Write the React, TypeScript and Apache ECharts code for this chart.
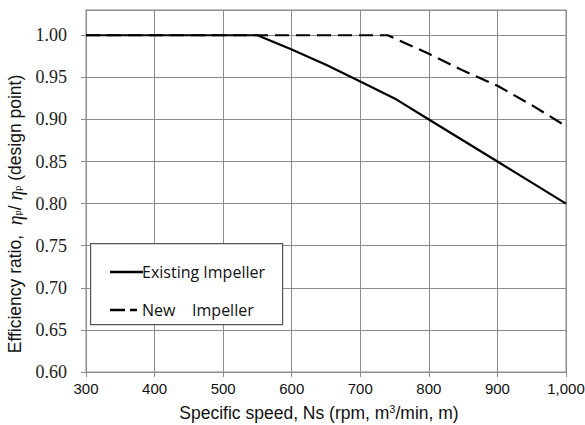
import React, { useEffect, useRef } from "react";
import * as echarts from "echarts";

const existingNs = [300, 550, 600, 650, 700, 750, 800, 900, 1000];
const existingEff = [1.0, 1.0, 0.983, 0.965, 0.945, 0.925, 0.9, 0.85, 0.8];
const newNs = [300, 740, 800, 850, 900, 950, 1000];
const newEff = [1.0, 1.0, 0.978, 0.958, 0.94, 0.917, 0.892];
const seriesNames = ["Existing Impeller", "New\u00a0\u00a0\u00a0\u00a0Impeller"];

export default function App() {
  const ref = useRef<HTMLDivElement>(null);
  useEffect(() => {
    if (!ref.current) return;
    const chart = echarts.init(ref.current, null, { renderer: "svg" });
    const grid = "#8c8c8c";
    chart.setOption({
      animation: false,
      grid: {
        left: 86,
        right: 19,
        top: 10,
        bottom: 53,
        show: true,
        borderColor: grid,
        borderWidth: 1,
        containLabel: false,
        outerBoundsMode: "none",
      },
      xAxis: {
        type: "value",
        min: 300,
        max: 1000,
        interval: 100,
        name: "Specific speed, Ns (rpm, m{sup|3}/min, m)",
        nameLocation: "middle",
        nameGap: 31,
        nameTextStyle: {
          fontFamily: "Liberation Sans",
          fontSize: 17.5,
          color: "#111",
          padding: [0, 14, 0, 0],
          rich: { sup: { fontSize: 11, verticalAlign: "top", padding: [0, 0, 9, 0], fontFamily: "Liberation Sans", color: "#111" } },
        },
        axisLine: { lineStyle: { color: grid } },
        axisTick: { show: true, length: 5, lineStyle: { color: grid } },
        axisLabel: {
          fontFamily: "Liberation Sans",
          fontSize: 15,
          color: "#111",
          margin: 9,
          formatter: (v: number) => v.toLocaleString("en-US"),
        },
        splitLine: { show: true, lineStyle: { color: grid, width: 1 } },
      },
      yAxis: {
        type: "value",
        min: 0.6,
        max: 1.03,
        interval: 0.05,
        name: "Efficiency ratio,  {it|η}{sub|p}{n|/ }{it|η}{sub|p} (design point)",
        nameLocation: "middle",
        nameGap: 60,
        nameRotate: 90,
        nameTextStyle: {
          fontFamily: "Liberation Sans",
          fontSize: 17.5,
          color: "#111",
          padding: [0, 46, 0, 0],
          rich: {
            it: { fontStyle: "italic", fontFamily: "Liberation Serif", fontSize: 20, color: "#111" },
            sub: { fontSize: 9, fontFamily: "Liberation Sans", color: "#111", padding: [7, 0, 0, 0] },
            n: { fontSize: 17.5, fontFamily: "Liberation Sans", color: "#111" },
          },
        },
        axisLine: { show: true, lineStyle: { color: grid } },
        axisTick: { show: true, length: 5, lineStyle: { color: grid } },
        axisLabel: {
          fontFamily: "Liberation Serif",
          fontSize: 18,
          color: "#222",
          margin: 19,
          showMaxLabel: false,
          formatter: (v: number) => v.toFixed(2),
        },
        splitLine: { show: true, lineStyle: { color: grid, width: 1 } },
      },
      legend: {
        left: 105,
        top: 258,
        orient: "vertical",
        itemWidth: 33,
        itemHeight: 14,
        itemGap: 20,
        textStyle: { fontFamily: "Open Sans", fontSize: 16, color: "#111", lineHeight: 18, padding: [0, 0, 0, -6] },
        data: [
          { name: seriesNames[0], icon: "path://M0,0h33v2.4h-33z" },
          { name: seriesNames[1], icon: "path://M0,0h15v2.4h-15zM20,0h7v2.4h-7zM32.9,0h0.1v2.4h-0.1z" },
        ],
      },
      graphic: [
        {
          type: "rect",
          left: 90,
          top: 243,
          shape: { width: 192, height: 81 },
          style: { fill: "#fff", stroke: "#555", lineWidth: 1.2 },
          z: 1,
        },
      ],
      series: [
        {
          name: seriesNames[1],
          type: "line",
          symbol: "none",
          data: newNs.map((x, i) => [x, newEff[i]]),
          lineStyle: { color: "#000", width: 2.2, type: [14, 7] },
          itemStyle: { color: "#000" },
          z: 3,
        },
        {
          name: seriesNames[0],
          type: "line",
          symbol: "none",
          data: existingNs.map((x, i) => [x, existingEff[i]]),
          lineStyle: { color: "#000", width: 2.2 },
          itemStyle: { color: "#000" },
          z: 4,
        },
      ],
    });
    return () => chart.dispose();
  }, []);
  return <div ref={ref} style={{ width: 585, height: 425, position: "absolute", left: 0, top: 0, background: "#fff" }} />;
}
